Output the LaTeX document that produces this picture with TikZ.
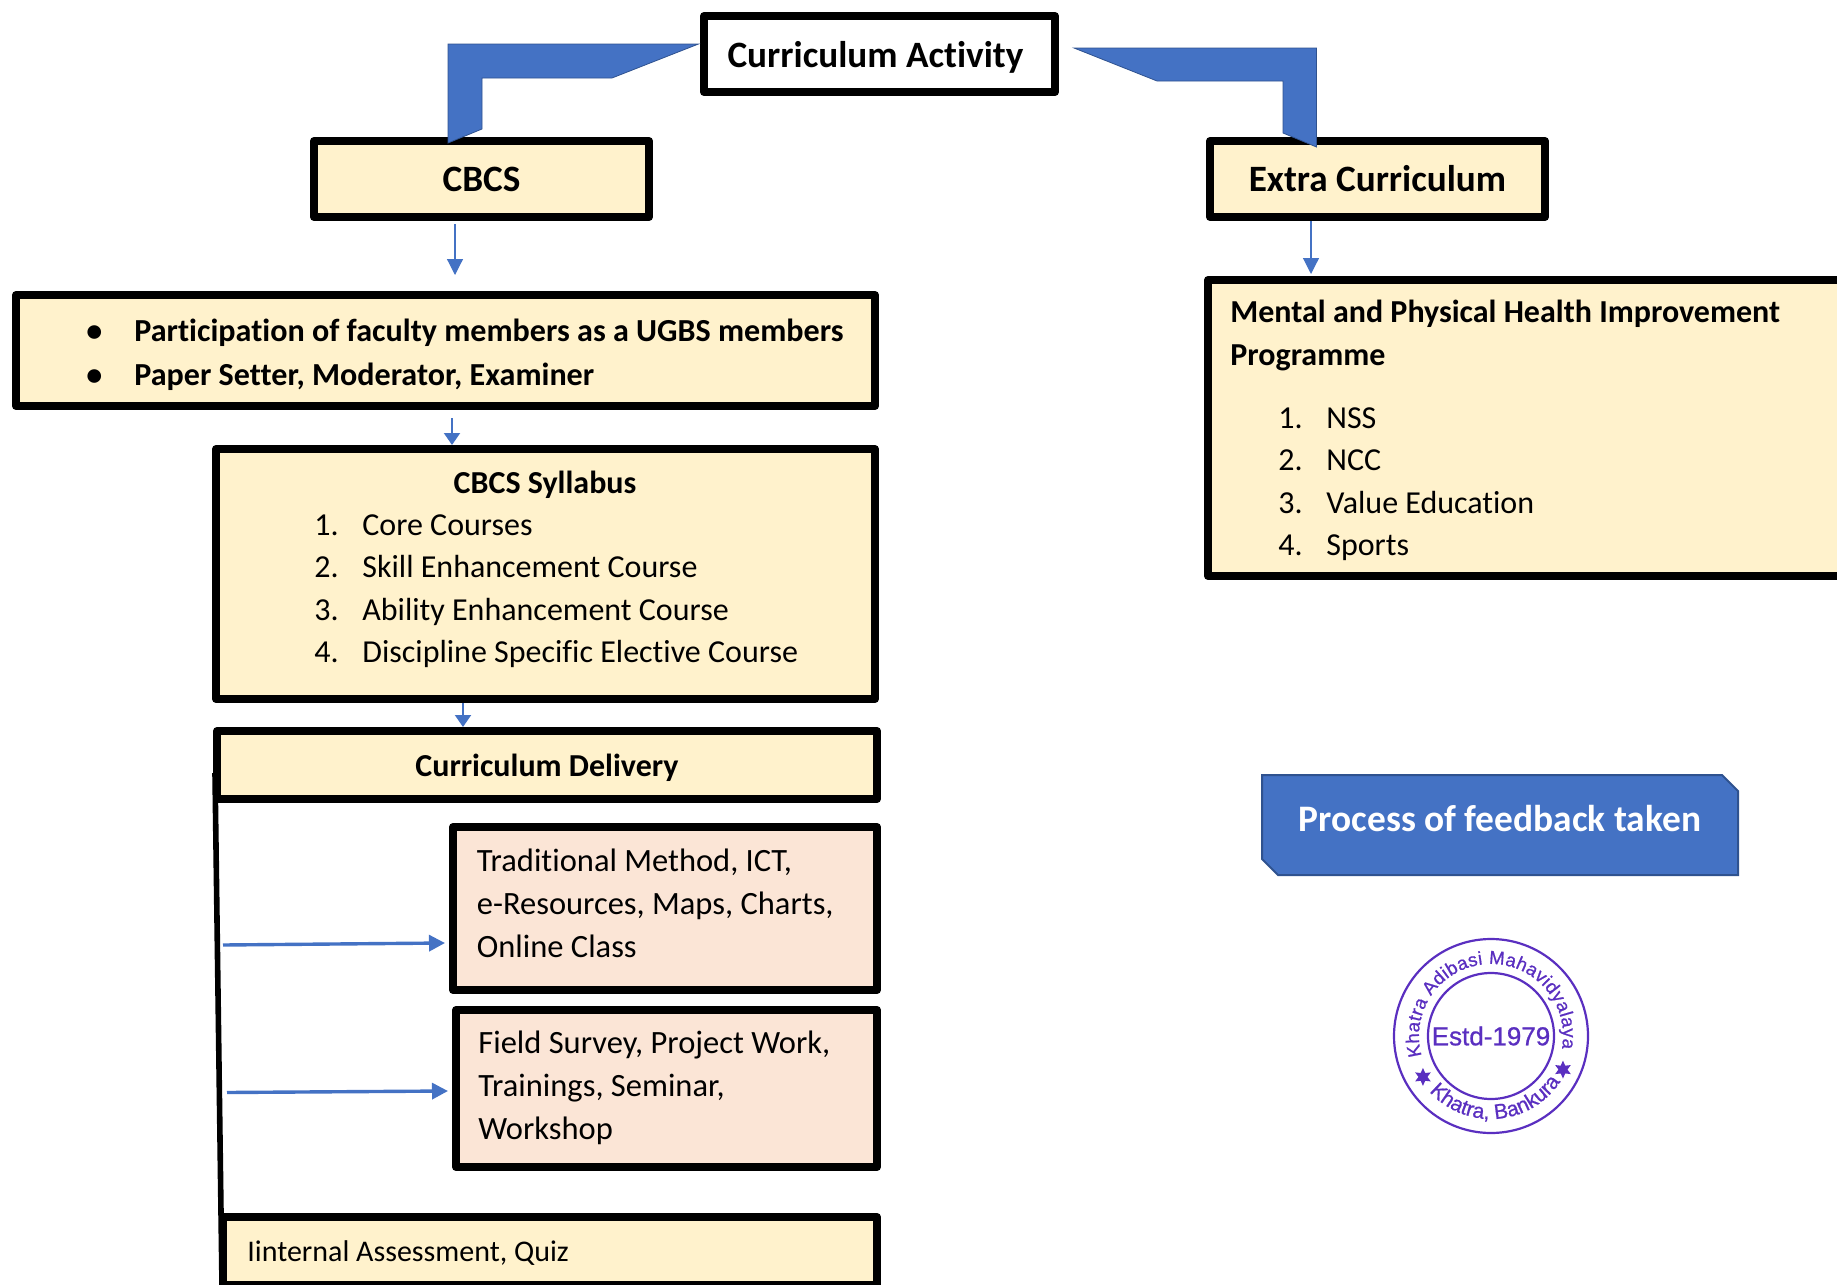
\documentclass[tikz,border=0pt]{standalone}
\usepackage{fontspec}
\setmainfont{Carlito}[Ligatures=NoCommon]
\newfontfamily\stampfont{Liberation Sans}[FakeBold=0.8]
\usepackage{xcolor}
\usetikzlibrary{arrows.meta,positioning,shapes.geometric,decorations.text}
\definecolor{panelYellow}{HTML}{FFF2CC}
\definecolor{panelPink}{HTML}{FBE5D6}
\definecolor{flowBlue}{HTML}{4472C4}
\definecolor{flowEdge}{HTML}{2F528F}
\definecolor{stampInk}{HTML}{5A2FC0}
\tikzset{
  panel/.style={draw=black,line width=4pt,fill=panelYellow,line join=round,inner sep=0pt},
  pinkpanel/.style={panel,fill=panelPink},
  thinarrow/.style={draw=flowBlue,line width=0.6pt,-{Triangle[length=8pt,width=8pt]}},
  midarrow/.style={draw=flowBlue,line width=1pt,-{Triangle[length=6pt,width=8pt]}},
  wideflow/.style={draw=flowBlue,line width=1.7pt,-{Triangle[length=8pt,width=8pt]}},
  bentflow/.style={fill=flowBlue,draw=flowEdge,line width=0.4pt},
  titletext/.style={font=\fontsize{18.6}{22}\selectfont\bfseries},
  headtext/.style={font=\fontsize{16}{21.3}\selectfont\bfseries},
  bodytext/.style={font=\fontsize{16}{21.3}\selectfont,anchor=north west,align=left,inner sep=0pt},
  stampring/.style={draw=stampInk,line width=1.1pt},
  stampstar/.style={star,star points=6,star point ratio=2,fill=stampInk,inner sep=0pt,minimum size=9pt},
}
\begin{document}
\begin{tikzpicture}[x=0.5pt,y=-0.5pt]
\useasboundingbox (0,0) rectangle (1837,1285);
% top row
\node[panel,fill=white,titletext,text depth=0pt,minimum width=175.5pt,minimum height=38pt] (activity) at (879.5,54) {Curriculum Activity\hspace*{4pt}};
\node[panel,titletext,minimum width=167.5pt,minimum height=38pt] (cbcs) at (481.5,179) {CBCS};
\node[panel,titletext,minimum width=167.5pt,minimum height=38pt] (extra) at (1377.5,179) {Extra Curriculum};
% left column
\node[panel,minimum width=429.5pt,minimum height=55.5pt] (faculty) at (445.5,350.5) {};
\node[bodytext,font=\fontsize{16.05}{21.8}\selectfont\bfseries] (facultyList) at (86,319) {\makebox[24pt][l]{\textbullet}Participation of faculty members as a UGBS members\\\makebox[24pt][l]{\textbullet}Paper Setter, Moderator, Examiner};
\node[panel,minimum width=329.5pt,minimum height=125pt] (syllabus) at (545.5,574) {};
\node[headtext] (syllabusHead) at (545,485) {CBCS Syllabus};
\node[bodytext] (syllabusList) at (314,514) {\makebox[24pt][l]{1.}Core Courses\\\makebox[24pt][l]{2.}Skill Enhancement Course\\\makebox[24pt][l]{3.}Ability Enhancement Course\\\makebox[24pt][l]{4.}Discipline Specific Elective Course};
\node[panel,headtext,text depth=0pt,minimum width=330pt,minimum height=34pt] (delivery) at (547,765) {Curriculum Delivery};
\coordinate (sideTop) at (215,773);
\coordinate (sideBottom) at (222,1285);
\draw[line width=2.8pt] (sideTop) -- (sideBottom);
\node[pinkpanel,minimum width=212pt,minimum height=81.5pt] (method) at (665,908.5) {};
\node[bodytext,font=\fontsize{16.25}{21.3}\selectfont] (methodList) at (476.5,849) {Traditional Method, ICT,\\e-Resources, Maps, Charts,\\Online Class};
\node[pinkpanel,minimum width=210.5pt,minimum height=78.5pt] (field) at (666.5,1088.5) {};
\node[bodytext,font=\fontsize{16.25}{21.3}\selectfont] (fieldList) at (478,1031) {Field Survey, Project Work,\\Trainings, Seminar,\\Workshop};
\node[panel,minimum width=327pt,minimum height=34pt] (internal) at (550,1251) {};
\node[bodytext,font=\fontsize{15}{21.3}\selectfont] (internalText) at (247,1240) {Iinternal Assessment, Quiz};
% right column
\node[panel,minimum width=321pt,minimum height=148pt] (health) at (1529,428) {};
\node[bodytext] (healthHead) at (1230,300) {\bfseries Mental and Physical Health Improvement\\\bfseries Programme};
\node[bodytext] (healthList) at (1278,407) {\makebox[24pt][l]{1.}NSS\\\makebox[24pt][l]{2.}NCC\\\makebox[24pt][l]{3.}Value Education\\\makebox[24pt][l]{4.}Sports};
\draw[fill=flowBlue,draw=flowEdge,line width=1pt] (1262,775) -- (1722,775) -- (1738,791) -- (1738,875) -- (1278,875) -- (1262,859) -- cycle;
\node[font=\fontsize{18.7}{22}\selectfont\bfseries,text=white] (feedback) at (1500,819) {Process of feedback taken};
% bent arrows
\coordinate (leftTip) at (698.5,44);
\coordinate (leftDown) at (448,143);
\coordinate (rightTip) at (1074,48);
\coordinate (rightDown) at (1316.5,147);
\draw[bentflow] (leftTip) -- (448,44) -- (leftDown) -- (482,129) -- (482,78) -- (612,78) -- cycle;
\draw[bentflow] (rightTip) -- (1316.5,48) -- (rightDown) -- (1283,133) -- (1283,81) -- (1157,81) -- cycle;
% small arrows
\coordinate (cbcsOut) at (455,224);
\coordinate (extraOut) at (1311,221);
\coordinate (facultyOut) at (452,418);
\coordinate (syllabusOut) at (463,703);
\draw[thinarrow,shorten >=8pt] (cbcsOut) -- (cbcsOut |- faculty.north);
\draw[thinarrow,shorten >=1pt] (extraOut) -- (extraOut |- health.north);
\draw[midarrow] (facultyOut) -- (facultyOut |- syllabus.north);
\draw[midarrow] (syllabusOut) -- (syllabusOut |- delivery.north);
\coordinate (methodIn) at (223,945);
\coordinate (methodTip) at (445,943);
\coordinate (fieldIn) at (227,1092.5);
\coordinate (fieldTip) at (448,1091);
\draw[wideflow] (methodIn) -- (methodTip);
\draw[wideflow] (fieldIn) -- (fieldTip);
% stamp
\begin{scope}[shift={(1491,1036)},x=1pt,y=1pt]
\draw[stampring] (0,0) circle (48.5pt);
\draw[stampring] (0,0) circle (31.5pt);
\node[text=stampInk,font=\stampfont\fontsize{13}{13}\selectfont] (estd) at (0,0) {Estd-1979};
\path[decorate,decoration={text along path,text align={fit to path},text color=stampInk,
  text={|\stampfont\fontsize{9.3}{10}\selectfont|Khatra Adibasi Mahavidyalaya}}]
  (196:36pt) arc (196:-10:36pt);
\path[decorate,decoration={text along path,text align={fit to path},text color=stampInk,
  text={|\stampfont\fontsize{10.5}{10}\selectfont|Khatra, Bankura}}]
  (222:41.5pt) arc (222:324:41.5pt);
\node[stampstar] (starLeft) at (211:39.7pt) {};
\node[stampstar] (starRight) at (335:39.7pt) {};
\end{scope}
\end{tikzpicture}
\end{document}
